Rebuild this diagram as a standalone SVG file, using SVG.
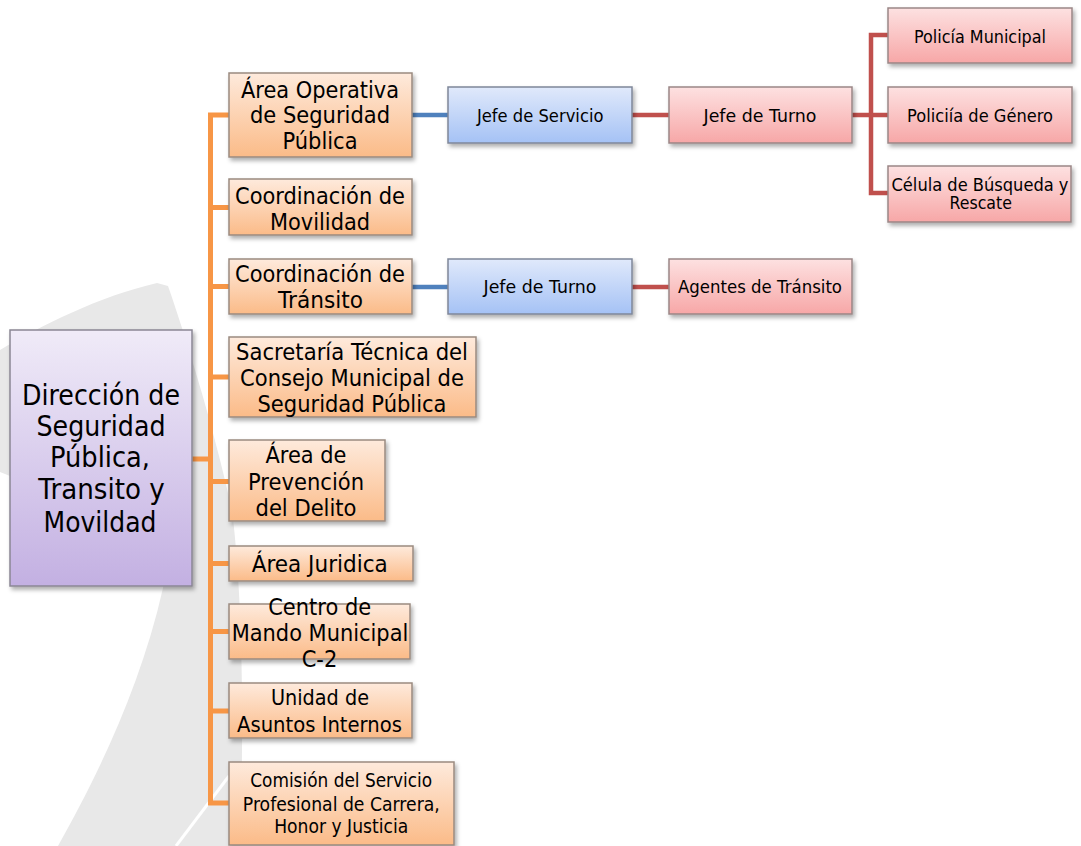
<svg xmlns="http://www.w3.org/2000/svg" width="1081" height="846" viewBox="0 0 1081 846">
  <defs>
    <linearGradient id="gOrange" x1="0" y1="0" x2="0" y2="1">
      <stop offset="0" stop-color="#feeadc"/>
      <stop offset="1" stop-color="#fbbb88"/>
    </linearGradient>
    <linearGradient id="gBlue" x1="0" y1="0" x2="0" y2="1">
      <stop offset="0" stop-color="#e0e9fb"/>
      <stop offset="1" stop-color="#a5c2f5"/>
    </linearGradient>
    <linearGradient id="gPink" x1="0" y1="0" x2="0" y2="1">
      <stop offset="0" stop-color="#fde1e1"/>
      <stop offset="1" stop-color="#f7a7a7"/>
    </linearGradient>
    <linearGradient id="gPurple" x1="0" y1="0" x2="0" y2="1">
      <stop offset="0" stop-color="#f0ebf8"/>
      <stop offset="1" stop-color="#c3b0e2"/>
    </linearGradient>
    <filter id="shadow" x="-10%" y="-10%" width="130%" height="140%">
      <feDropShadow dx="2" dy="3" stdDeviation="2.2" flood-color="#000" flood-opacity="0.32"/>
    </filter>
    <style>
      .box { stroke: #8e8e8e; stroke-width: 1.5; filter: url(#shadow); }
      .orange { fill: url(#gOrange); stroke: #9a8a80; }
      .blue { fill: url(#gBlue); stroke: #7f8799; }
      .pink { fill: url(#gPink); stroke: #9a8686; }
      .purple { fill: url(#gPurple); stroke: #8a8794; }
      text { font-family: "DejaVu Sans", "Liberation Sans", sans-serif; fill: #000; text-anchor: middle; }
      .t-big { font-size: 28px; }
      .t-mid { font-size: 23px; }
      .t-un { font-size: 21.5px; }
      .t-com { font-size: 19px; }
      .t-small { font-size: 17.5px; }
      .c-orange { stroke: #f79646; stroke-width: 5; fill: none; }
      .c-blue { stroke: #4f81bd; stroke-width: 4.5; fill: none; }
      .c-red { stroke: #c0504d; stroke-width: 4.5; fill: none; }
    </style>
  </defs>

  <rect x="0" y="0" width="1081" height="846" fill="#ffffff"/>

  <g id="background">
    <path d="M0,350 C40,326 100,296 157,283 L168,286 C185,335 212,420 232,510 C243,600 244,720 240,846 L58,846 C95,780 140,690 163,588 L170,540 L0,472 Z" fill="#e8e8e8"/>
    <path d="M176,846 L229,776" stroke="#ffffff" stroke-width="3" fill="none"/>
  </g>

  <g id="connectors">
    <path class="c-orange" d="M229,115 H210.5 V803 H229"/>
    <path class="c-orange" d="M210.5,207.5 H229 M210.5,286.5 H229 M210.5,377 H229 M210.5,481.5 H229 M210.5,563.5 H229 M210.5,631.5 H229 M210.5,711 H229 M192,459 H210.5"/>
    <path class="c-blue" d="M412,115 H448 M412,287 H448"/>
    <path class="c-red" d="M632,115 H669 M632,287 H669 M852,115 H888"/>
    <path class="c-red" d="M888,35 H871 V193 H888"/>
  </g>

  <g id="n-direccion">
    <rect class="box purple" x="10" y="330" width="182" height="256"/>
    <text class="t-big" x="101" y="405" textLength="158" lengthAdjust="spacingAndGlyphs">Dirección de</text>
    <text class="t-big" x="101" y="435.5" textLength="129" lengthAdjust="spacingAndGlyphs">Seguridad</text>
    <text class="t-big" x="100" y="467" textLength="100" lengthAdjust="spacingAndGlyphs">Pública,</text>
    <text class="t-big" x="101.5" y="498.5" textLength="126.5" lengthAdjust="spacingAndGlyphs">Transito y</text>
    <text class="t-big" x="100" y="531.5" textLength="113" lengthAdjust="spacingAndGlyphs">Movildad</text>
  </g>

  <g id="n-area-operativa">
    <rect class="box orange" x="229" y="73" width="183" height="84"/>
    <text class="t-mid" x="320" y="97.5" textLength="158" lengthAdjust="spacingAndGlyphs">Área Operativa</text>
    <text class="t-mid" x="320" y="123" textLength="140" lengthAdjust="spacingAndGlyphs">de Seguridad</text>
    <text class="t-mid" x="320" y="149" textLength="75" lengthAdjust="spacingAndGlyphs">Pública</text>
  </g>

  <g id="n-coord-movilidad">
    <rect class="box orange" x="229" y="179" width="183" height="56"/>
    <text class="t-mid" x="320" y="204" textLength="170" lengthAdjust="spacingAndGlyphs">Coordinación de</text>
    <text class="t-mid" x="320" y="229.5" textLength="100" lengthAdjust="spacingAndGlyphs">Movilidad</text>
  </g>

  <g id="n-coord-transito">
    <rect class="box orange" x="229" y="259" width="183" height="55"/>
    <text class="t-mid" x="320" y="281.7" textLength="170" lengthAdjust="spacingAndGlyphs">Coordinación de</text>
    <text class="t-mid" x="320.5" y="307.5" textLength="85" lengthAdjust="spacingAndGlyphs">Tránsito</text>
  </g>

  <g id="n-sacretaria">
    <rect class="box orange" x="229" y="337" width="247" height="80"/>
    <text class="t-mid" x="352" y="360" textLength="232" lengthAdjust="spacingAndGlyphs">Sacretaría Técnica del</text>
    <text class="t-mid" x="352" y="385.5" textLength="224" lengthAdjust="spacingAndGlyphs">Consejo Municipal de</text>
    <text class="t-mid" x="352" y="411.5" textLength="189" lengthAdjust="spacingAndGlyphs">Seguridad Pública</text>
  </g>

  <g id="n-prevencion">
    <rect class="box orange" x="229" y="440" width="156" height="81"/>
    <text class="t-mid" x="306" y="463" textLength="81" lengthAdjust="spacingAndGlyphs">Área de</text>
    <text class="t-mid" x="306" y="490" textLength="116" lengthAdjust="spacingAndGlyphs">Prevención</text>
    <text class="t-mid" x="306" y="516" textLength="101" lengthAdjust="spacingAndGlyphs">del Delito</text>
  </g>

  <g id="n-juridica">
    <rect class="box orange" x="229" y="546" width="184" height="35"/>
    <text class="t-mid" x="319.7" y="571.5" textLength="136" lengthAdjust="spacingAndGlyphs">Área Juridica</text>
  </g>

  <g id="n-centro-mando">
    <rect class="box orange" x="229" y="604" width="181" height="55"/>
    <text class="t-mid" x="319.7" y="615" textLength="103" lengthAdjust="spacingAndGlyphs">Centro de</text>
    <text class="t-mid" x="320" y="640.7" textLength="176.6" lengthAdjust="spacingAndGlyphs">Mando Municipal</text>
    <text class="t-mid" x="319.5" y="666.5" textLength="35.6" lengthAdjust="spacingAndGlyphs">C-2</text>
  </g>

  <g id="n-asuntos-internos">
    <rect class="box orange" x="229" y="683" width="183" height="55"/>
    <text class="t-un" x="320" y="705" textLength="98" lengthAdjust="spacingAndGlyphs">Unidad de</text>
    <text class="t-un" x="319.5" y="731.5" textLength="165" lengthAdjust="spacingAndGlyphs">Asuntos Internos</text>
  </g>

  <g id="n-comision">
    <rect class="box orange" x="229" y="762" width="225" height="83"/>
    <text class="t-com" x="341.2" y="787" textLength="182" lengthAdjust="spacingAndGlyphs">Comisión del Servicio</text>
    <text class="t-com" x="341.3" y="810.5" textLength="197" lengthAdjust="spacingAndGlyphs">Profesional de Carrera,</text>
    <text class="t-com" x="341.2" y="833" textLength="134" lengthAdjust="spacingAndGlyphs">Honor y Justicia</text>
  </g>

  <g id="n-jefe-servicio">
    <rect class="box blue" x="448" y="87" width="184" height="56"/>
    <text class="t-small" x="540.2" y="121.5" textLength="126.5" lengthAdjust="spacingAndGlyphs">Jefe de Servicio</text>
  </g>

  <g id="n-jefe-turno-1">
    <rect class="box pink" x="669" y="87" width="183" height="56"/>
    <text class="t-small" x="760" y="121.5" textLength="113" lengthAdjust="spacingAndGlyphs">Jefe de Turno</text>
  </g>

  <g id="n-policia-municipal">
    <rect class="box pink" x="888" y="8" width="184" height="55"/>
    <text class="t-small" x="980" y="42.7" textLength="132" lengthAdjust="spacingAndGlyphs">Policía Municipal</text>
  </g>

  <g id="n-policia-genero">
    <rect class="box pink" x="888" y="87" width="184" height="56"/>
    <text class="t-small" x="980" y="121.5" textLength="146" lengthAdjust="spacingAndGlyphs">Policiía de Género</text>
  </g>

  <g id="n-celula">
    <rect class="box pink" x="888" y="166" width="183" height="56"/>
    <text class="t-small" x="980" y="190.5" textLength="177" lengthAdjust="spacingAndGlyphs">Célula de Búsqueda y</text>
    <text class="t-small" x="980.7" y="209.3" textLength="62.5" lengthAdjust="spacingAndGlyphs">Rescate</text>
  </g>

  <g id="n-jefe-turno-2">
    <rect class="box blue" x="448" y="259" width="184" height="55"/>
    <text class="t-small" x="540" y="293.3" textLength="113" lengthAdjust="spacingAndGlyphs">Jefe de Turno</text>
  </g>

  <g id="n-agentes-transito">
    <rect class="box pink" x="669" y="259" width="183" height="55"/>
    <text class="t-small" x="760" y="293.3" textLength="164" lengthAdjust="spacingAndGlyphs">Agentes de Tránsito</text>
  </g>
</svg>
